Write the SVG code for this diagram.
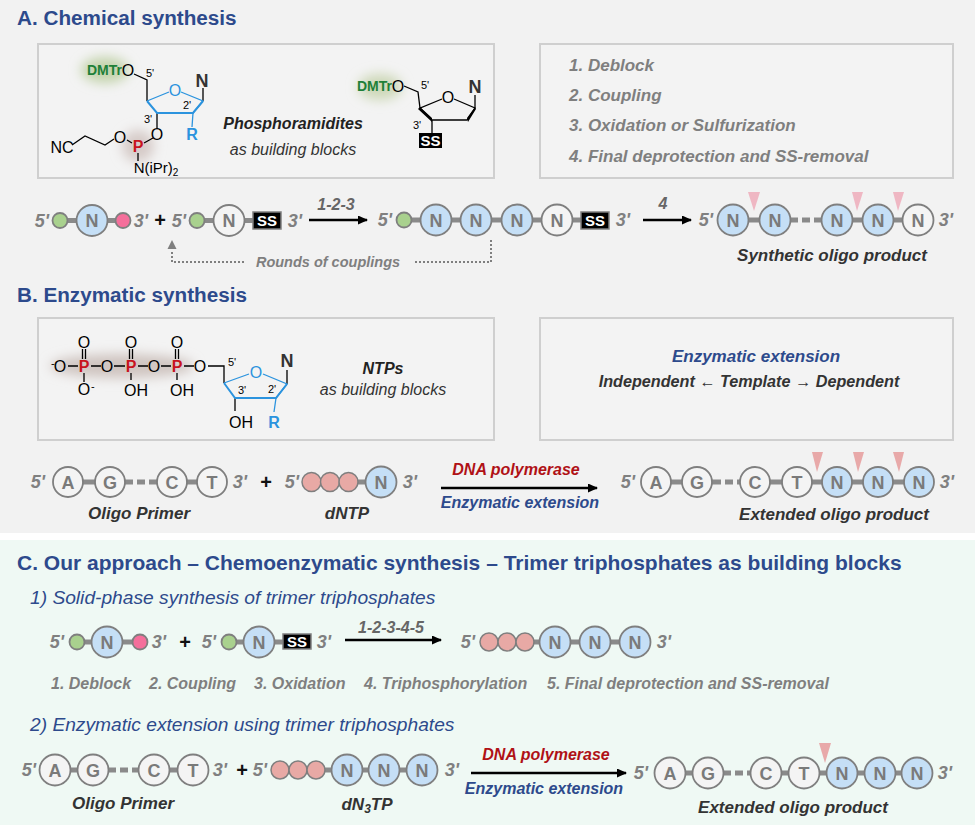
<svg xmlns="http://www.w3.org/2000/svg" width="975" height="825" viewBox="0 0 975 825">
<style>
text{font-family:"Liberation Sans",Arial,sans-serif}
.h{font-size:20.700px;font-weight:bold;fill:#2d4a8c}
.h3{font-size:21px;font-weight:bold;fill:#2d4a8c}
.sub{font-size:19.200px;font-style:italic;fill:#2d4a8c}
.panel{fill:#f3f3f3;stroke:#cfcfcf;stroke-width:2}
.step{font-size:17px;font-weight:bold;font-style:italic;fill:#7f7f7f}
.round{font-size:14.500px;font-weight:bold;font-style:italic;fill:#7f7f7f;text-anchor:middle}
.cstep{font-size:16px;font-weight:bold;font-style:italic;fill:#7f7f7f}
.pr{font-size:18px;font-weight:bold;font-style:italic;fill:#808080;text-anchor:middle}
.lab{font-size:17px;font-weight:bold;font-style:italic;fill:#333;text-anchor:middle}
.red{font-size:16px;font-weight:bold;font-style:italic;fill:#b01116;text-anchor:middle}
.blue{font-size:16px;font-weight:bold;font-style:italic;fill:#2d4a8c;text-anchor:middle}
.blue2{font-size:17px;font-weight:bold;font-style:italic;fill:#2d4a8c;text-anchor:middle}
.indep{font-size:16.200px;font-weight:bold;font-style:italic;fill:#333;text-anchor:middle}
.num{font-size:16px;font-weight:bold;font-style:italic;fill:#666;text-anchor:middle}
.plus{font-size:20px;font-weight:bold;fill:#111;text-anchor:middle}
.bl{fill:#c5dff6;stroke:#7f7f7f;stroke-width:1.800}
.wh{fill:#f4f4f4;stroke:#7f7f7f;stroke-width:1.800}
.gr{fill:#a9d18e;stroke:#7f7f7f;stroke-width:1.800}
.pk{fill:#f56f9b;stroke:#7f7f7f;stroke-width:1.800}
.sa{fill:#e8a9a5;stroke:#7f7f7f;stroke-width:1.500}
.nt{font-size:18px;font-weight:bold;fill:#7a7a7a;text-anchor:middle}
.ss{fill:#000;stroke:#7f7f7f;stroke-width:1.500}
.sst{font-size:15px;font-weight:bold;fill:#fff;text-anchor:middle}
.bar{stroke:#8a8a8a;stroke-width:5;fill:none}
.dash{stroke:#8a8a8a;stroke-width:5;fill:none;stroke-dasharray:8 4}
.arr{stroke:#000;stroke-width:2.500;fill:none;marker-end:url(#ah)}
.dot{stroke:#7f7f7f;stroke-width:2;fill:none;stroke-dasharray:2 2}
.tri{fill:#efb7c3}
.tri2{fill:#e8a9a9}
.bk{stroke:#000;stroke-width:1.300;fill:none}
.bb{stroke:#2b93de;stroke-width:1.300;fill:none}
.bw{stroke:#2b93de;stroke-width:2;fill:none}
.at{font-size:16px;fill:#000;text-anchor:middle}
.at2{font-size:15px;fill:#000;text-anchor:middle}
.atb{font-size:16px;fill:#2b93de;text-anchor:middle}
.P{font-size:16px;font-weight:bold;fill:#c8141e;text-anchor:middle}
.Nb{font-size:18px;font-weight:bold;fill:#333;text-anchor:middle}
.Rb{font-size:16px;font-weight:bold;fill:#2b93de;text-anchor:middle}
.dm{font-size:14px;font-weight:bold;fill:#1f8038}
.pm{font-size:11px;fill:#000;text-anchor:middle}
.bt{font-size:16px;font-weight:bold;font-style:italic;fill:#222;text-anchor:middle}
.it{font-size:16px;font-style:italic;fill:#333;text-anchor:middle}
</style>
<defs>
<marker id="ah" markerWidth="11" markerHeight="10" refX="9" refY="4.500" orient="auto" markerUnits="userSpaceOnUse"><path d="M0 0L10 4.500L0 9Z" fill="#000"/></marker>
<filter id="bl" x="-60%" y="-100%" width="220%" height="300%"><feGaussianBlur stdDeviation="6"/></filter>
</defs>
<rect width="975" height="533" fill="#f2f2f2"/>
<rect y="533" width="975" height="7" fill="#fff"/>
<rect y="540" width="975" height="285" fill="#eff9f4"/>

<text class="h" x="17" y="25">A. Chemical synthesis</text>
<rect class="panel" x="38" y="44" width="456" height="134"/>
<rect class="panel" x="540" y="44" width="413" height="134"/>

<g id="phosphoramidite">
<ellipse cx="105" cy="70" rx="24" ry="13" fill="#c3d3ab" filter="url(#bl)"/>
<circle cx="138" cy="146" r="16" fill="#d6cbc8" filter="url(#bl)"/>
<path class="bk" d="M134 74L147 80V101M203 101V88M157 113V128M153 138L144 143M127 140L132 143M114 139L105 145L85 136L72 145M138 153V161"/>
<path class="bb" d="M147 101L169 92M181 92L203 101L193 113M193 113L192 127"/>
<path class="bw" d="M147 101L157 113H193L203 101"/>
<text class="dm" x="87" y="75">DMTr</text>
<text class="at" x="128" y="76">O</text>
<text class="pm" x="150" y="77">5'</text>
<text class="atb" x="175" y="96">O</text>
<text class="Nb" x="202" y="87">N</text>
<text class="pm" x="187" y="109">2'</text>
<text class="pm" x="148" y="123">3'</text>
<text class="Rb" x="192" y="140">R</text>
<text class="at" x="157" y="140">O</text>
<text class="at" x="120" y="143">O</text>
<text class="P" x="138" y="152">P</text>
<text class="at" x="62" y="153">NC</text>
<text class="at2" x="156" y="173">N(iPr)<tspan font-size="10" dy="3">2</tspan></text>
</g>
<g id="phosphoramidites-label">
<text class="bt" x="293" y="129">Phosphoramidites</text>
<text class="it" x="293" y="155">as building blocks</text>
</g>
<g id="ss-amidite">
<ellipse cx="380" cy="87" rx="22" ry="13" fill="#cdd8b8" filter="url(#bl)"/>
<path class="bk" d="M404 86L418 92L420 108L442 99M454 99L475 108L467 120H432L420 108M475 108V95M432 120V133"/>
<path d="M420 107L432 118L432 122L418 109ZM467 118L475 107L476 109L468 122Z" fill="#000"/>
<text class="dm" x="357" y="91">DMTr</text>
<text class="at" x="398" y="92">O</text>
<text class="pm" x="425" y="89">5'</text>
<text class="at" x="448" y="103">O</text>
<text class="Nb" x="475" y="93">N</text>
<text class="pm" x="417" y="129">3'</text>
<rect x="419" y="133" width="23" height="15" fill="#000"/>
<text class="sst" x="430.500" y="146">SS</text>
</g>
<g id="steps-a">
<text class="step" x="569" y="71">1. Deblock</text>
<text class="step" x="569" y="101">2. Coupling</text>
<text class="step" x="569" y="131">3. Oxidation or Sulfurization</text>
<text class="step" x="569" y="162">4. Final deprotection and SS-removal</text>
</g>

<g id="connectors">
<path class="bar" d="M60 220.500H123M197 220.500H253M404 220H581M733 220H790M822 220H918"/>
<path class="dash" d="M790 220H822"/>
<path class="arr" d="M309 220H367"/>
<path class="arr" d="M643 220H691"/>
<path class="dot" d="M244 262H172V250"/>
<path d="M172 240L176.500 249H167.500Z" fill="#7f7f7f"/>
<path class="dot" d="M415 262H491V240"/>
<path class="bar" d="M68 482H125M157 482H212M311 482H381M656 482H713M741 482H919"/>
<path class="dash" d="M125 482H157M713 482H741"/>
<path class="arr" d="M441 488H597"/>
<path class="bar" d="M77 642H140M229 642H283M489 642H635"/>
<path class="arr" d="M345 640H441"/>
<path class="bar" d="M55 770H108M139 770H193M280 770H422M670 773H723M751 773H917"/>
<path class="dash" d="M108 770H139M723 773H751"/>
<path class="arr" d="M471 773H626"/>
</g>

<g id="row-a-labels">
<text class="pr" x="42" y="227">5'</text><text class="pr" x="141" y="227">3'</text>
<text class="plus" x="160" y="227">+</text>
<text class="pr" x="179" y="227">5'</text><text class="pr" x="295" y="227">3'</text>
<text class="num" x="336" y="210">1-2-3</text>
<text class="pr" x="385" y="226">5'</text><text class="pr" x="623" y="226">3'</text>
<text class="num" x="663" y="209">4</text>
<text class="pr" x="706" y="226">5'</text><text class="pr" x="946" y="226">3'</text>
<text class="round" x="328" y="267">Rounds of couplings</text>
<text class="lab" x="832" y="261">Synthetic oligo product</text>
</g>
<g id="a1"><circle class="gr" cx="60" cy="220.500" r="7.500"/></g>
<g id="a2"><circle class="bl" cx="92" cy="220.500" r="15.500"/><text class="nt" x="92" y="227">N</text></g>
<g id="a3"><circle class="pk" cx="123" cy="220.500" r="7.500"/></g>
<g id="a4"><circle class="gr" cx="197" cy="220.500" r="7.500"/></g>
<g id="a5"><circle class="wh" cx="229" cy="220.500" r="15.500"/><text class="nt" x="229" y="227">N</text></g>
<g id="a6"><rect class="ss" x="253" y="212" width="28" height="17"/><text class="sst" x="267" y="226">SS</text></g>
<g id="a7"><circle class="gr" cx="404" cy="220" r="7.500"/></g>
<g id="a8"><circle class="bl" cx="436" cy="220" r="15.500"/><text class="nt" x="436" y="226.500">N</text></g>
<g id="a9"><circle class="bl" cx="476" cy="220" r="15.500"/><text class="nt" x="476" y="226.500">N</text></g>
<g id="a10"><circle class="bl" cx="517" cy="220" r="15.500"/><text class="nt" x="517" y="226.500">N</text></g>
<g id="a11"><circle class="wh" cx="557" cy="220" r="15.500"/><text class="nt" x="557" y="226.500">N</text></g>
<g id="a12"><rect class="ss" x="581" y="212" width="28" height="17"/><text class="sst" x="595" y="226">SS</text></g>
<g id="a13"><circle class="bl" cx="733" cy="220" r="15.500"/><text class="nt" x="733" y="226.500">N</text></g>
<g id="a14"><circle class="bl" cx="775" cy="220" r="15.500"/><text class="nt" x="775" y="226.500">N</text></g>
<g id="a15"><circle class="bl" cx="837" cy="220" r="15.500"/><text class="nt" x="837" y="226.500">N</text></g>
<g id="a16"><circle class="bl" cx="878" cy="220" r="15.500"/><text class="nt" x="878" y="226.500">N</text></g>
<g id="a17"><circle class="wh" cx="918" cy="220" r="15.500"/><text class="nt" x="918" y="226.500">N</text></g>
<g id="a-cuts">
<path class="tri" d="M748 192H760L754 211Z"/><path class="tri" d="M852 192H863L857 211Z"/><path class="tri" d="M893 192H904L898 211Z"/>
</g>

<text class="h" x="17" y="302">B. Enzymatic synthesis</text>
<rect class="panel" x="38" y="318" width="456" height="122"/>
<rect class="panel" x="540" y="318" width="413" height="122"/>
<g id="ntp">
<ellipse cx="122" cy="366" rx="72" ry="12" fill="#cfc4c0" filter="url(#bl)"/>
<path class="bk" d="M68 366H78M91 366H101M114 366H125M138 366H148M161 366H171M184 366H194M208 366H224V383M287 384V370M82.500 349V359M85.500 349V359M129.500 349V359M132.500 349V359M175.500 349V359M178.500 349V359M84 373V382M131 373V380M177 373V380M235 398V411"/>
<path class="bb" d="M224 383L249 374M263 374L287 384L276 398M276 398L274 412"/>
<path class="bw" d="M224 383L235 398H276L287 384"/>
<text class="at" x="60" y="372">O</text><text x="51" y="367" font-size="11" fill="#000">-</text>
<text class="P" x="84" y="372">P</text>
<text class="at" x="107" y="372">O</text>
<text class="P" x="131" y="372">P</text>
<text class="at" x="154" y="372">O</text>
<text class="P" x="177" y="372">P</text>
<text class="at" x="200" y="372">O</text>
<text class="at" x="84" y="348">O</text><text class="at" x="131" y="348">O</text><text class="at" x="177" y="348">O</text>
<text class="at" x="84" y="395">O</text><text x="91" y="390" font-size="11" fill="#000">-</text>
<text class="at" x="136" y="396">OH</text><text class="at" x="182" y="396">OH</text>
<text class="pm" x="232" y="366">5'</text>
<text class="atb" x="256" y="378">O</text>
<text class="Nb" x="287" y="367">N</text>
<text class="pm" x="242" y="394">3'</text>
<text class="pm" x="272" y="393">2'</text>
<text class="at" x="241" y="428">OH</text>
<text class="Rb" x="274" y="428">R</text>
</g>
<g id="ntps-label">
<text class="bt" x="383" y="374">NTPs</text>
<text class="it" x="383" y="395">as building blocks</text>
</g>
<g id="extension-box">
<text class="blue2" x="756" y="362">Enzymatic extension</text>
<text class="indep" x="749" y="387">Independent ← Template → Dependent</text>
</g>
<g id="row-b-labels">
<text class="pr" x="38" y="488">5'</text><text class="pr" x="240" y="488">3'</text>
<text class="plus" x="266" y="489">+</text>
<text class="pr" x="292" y="488">5'</text><text class="pr" x="410" y="488">3'</text>
<text class="red" x="516" y="475">DNA polymerase</text>
<text class="blue" x="520" y="508">Enzymatic extension</text>
<text class="pr" x="628" y="488">5'</text><text class="pr" x="947" y="488">3'</text>
<text class="lab" x="139" y="519">Oligo Primer</text>
<text class="lab" x="347" y="519">dNTP</text>
<text class="lab" x="834" y="520">Extended oligo product</text>
</g>
<g id="b1"><circle class="wh" cx="68" cy="482" r="15"/><text class="nt" x="68" y="488.500">A</text></g>
<g id="b2"><circle class="wh" cx="110" cy="482" r="15"/><text class="nt" x="110" y="488.500">G</text></g>
<g id="b3"><circle class="wh" cx="172" cy="482" r="15"/><text class="nt" x="172" y="488.500">C</text></g>
<g id="b4"><circle class="wh" cx="212" cy="482" r="15"/><text class="nt" x="212" y="488.500">T</text></g>
<g id="b5"><circle class="sa" cx="311.500" cy="482" r="9.500"/></g>
<g id="b6"><circle class="sa" cx="330" cy="482" r="9.500"/></g>
<g id="b7"><circle class="sa" cx="348.500" cy="482" r="9.500"/></g>
<g id="b8"><circle class="bl" cx="381" cy="482" r="15.500"/><text class="nt" x="381" y="488.500">N</text></g>
<g id="b9"><circle class="wh" cx="656" cy="482" r="15"/><text class="nt" x="656" y="488.500">A</text></g>
<g id="b10"><circle class="wh" cx="697" cy="482" r="15"/><text class="nt" x="697" y="488.500">G</text></g>
<g id="b11"><circle class="wh" cx="755" cy="482" r="15"/><text class="nt" x="755" y="488.500">C</text></g>
<g id="b12"><circle class="wh" cx="797" cy="482" r="15"/><text class="nt" x="797" y="488.500">T</text></g>
<g id="b13"><circle class="bl" cx="837" cy="482" r="15"/><text class="nt" x="837" y="488.500">N</text></g>
<g id="b14"><circle class="bl" cx="878" cy="482" r="15"/><text class="nt" x="878" y="488.500">N</text></g>
<g id="b15"><circle class="bl" cx="919" cy="482" r="15"/><text class="nt" x="919" y="488.500">N</text></g>
<g id="b-cuts">
<path class="tri2" d="M812 452H823L817 472Z"/><path class="tri2" d="M853 452H864L858 472Z"/><path class="tri2" d="M893 452H904L899 472Z"/>
</g>

<text class="h3" x="17" y="570">C. Our approach – Chemoenzymatic synthesis – Trimer triphosphates as building blocks</text>
<text class="sub" x="30" y="604">1) Solid-phase synthesis of trimer triphosphates</text>
<g id="row-c1-labels">
<text class="pr" x="57" y="648">5'</text><text class="pr" x="159" y="648">3'</text>
<text class="plus" x="185" y="649">+</text>
<text class="pr" x="209" y="648">5'</text><text class="pr" x="324" y="648">3'</text>
<text class="num" x="391" y="633">1-2-3-4-5</text>
<text class="pr" x="468" y="648">5'</text><text class="pr" x="664" y="648">3'</text>
</g>
<g id="c1"><circle class="gr" cx="77" cy="642" r="7.500"/></g>
<g id="c2"><circle class="bl" cx="107" cy="642" r="15.500"/><text class="nt" x="107" y="648.500">N</text></g>
<g id="c3"><circle class="pk" cx="140" cy="642" r="7.500"/></g>
<g id="c4"><circle class="gr" cx="229" cy="642" r="7.500"/></g>
<g id="c5"><circle class="bl" cx="259" cy="642" r="15.500"/><text class="nt" x="259" y="648.500">N</text></g>
<g id="c6"><rect class="ss" x="283" y="634" width="28" height="15"/><text class="sst" x="297" y="647">SS</text></g>
<g id="c7"><circle class="sa" cx="489" cy="642" r="9"/></g>
<g id="c8"><circle class="sa" cx="507" cy="642" r="9"/></g>
<g id="c9"><circle class="sa" cx="525" cy="642" r="9"/></g>
<g id="c10"><circle class="bl" cx="555" cy="642" r="15.500"/><text class="nt" x="555" y="648.500">N</text></g>
<g id="c11"><circle class="bl" cx="595" cy="642" r="15.500"/><text class="nt" x="595" y="648.500">N</text></g>
<g id="c12"><circle class="bl" cx="635" cy="642" r="15.500"/><text class="nt" x="635" y="648.500">N</text></g>
<g id="steps-c">
<text class="cstep" x="51" y="689">1. Deblock</text>
<text class="cstep" x="149" y="689">2. Coupling</text>
<text class="cstep" x="254" y="689">3. Oxidation</text>
<text class="cstep" x="364" y="689">4. Triphosphorylation</text>
<text class="cstep" x="547" y="689">5. Final deprotection and SS-removal</text>
</g>
<text class="sub" x="30" y="731">2) Enzymatic extension using trimer triphosphates</text>
<g id="row-c2-labels">
<text class="pr" x="29" y="776">5'</text><text class="pr" x="220" y="776">3'</text>
<text class="plus" x="242" y="777">+</text>
<text class="pr" x="260" y="776">5'</text><text class="pr" x="452" y="776">3'</text>
<text class="red" x="546" y="760">DNA polymerase</text>
<text class="blue" x="544" y="794">Enzymatic extension</text>
<text class="pr" x="641" y="779">5'</text><text class="pr" x="945" y="779">3'</text>
<text class="lab" x="123" y="809">Oligo Primer</text>
<text class="lab" x="367" y="810">dN<tspan font-size="12" dy="3">3</tspan><tspan dy="-3">TP</tspan></text>
<text class="lab" x="793" y="813">Extended oligo product</text>
</g>
<g id="d1"><circle class="wh" cx="55" cy="770" r="15.500"/><text class="nt" x="55" y="776.500">A</text></g>
<g id="d2"><circle class="wh" cx="93" cy="770" r="15.500"/><text class="nt" x="93" y="776.500">G</text></g>
<g id="d3"><circle class="wh" cx="154" cy="770" r="15.500"/><text class="nt" x="154" y="776.500">C</text></g>
<g id="d4"><circle class="wh" cx="193" cy="770" r="15.500"/><text class="nt" x="193" y="776.500">T</text></g>
<g id="d5"><circle class="sa" cx="280" cy="770" r="9"/></g>
<g id="d6"><circle class="sa" cx="298" cy="770" r="9"/></g>
<g id="d7"><circle class="sa" cx="316" cy="770" r="9"/></g>
<g id="d8"><circle class="bl" cx="347" cy="770" r="15.500"/><text class="nt" x="347" y="776.500">N</text></g>
<g id="d9"><circle class="bl" cx="384" cy="770" r="15.500"/><text class="nt" x="384" y="776.500">N</text></g>
<g id="d10"><circle class="bl" cx="422" cy="770" r="15.500"/><text class="nt" x="422" y="776.500">N</text></g>
<g id="d11"><circle class="wh" cx="670" cy="773" r="15.500"/><text class="nt" x="670" y="779.500">A</text></g>
<g id="d12"><circle class="wh" cx="708" cy="773" r="15.500"/><text class="nt" x="708" y="779.500">G</text></g>
<g id="d13"><circle class="wh" cx="766" cy="773" r="15.500"/><text class="nt" x="766" y="779.500">C</text></g>
<g id="d14"><circle class="wh" cx="804" cy="773" r="15.500"/><text class="nt" x="804" y="779.500">T</text></g>
<g id="d15"><circle class="bl" cx="842" cy="773" r="15.500"/><text class="nt" x="842" y="779.500">N</text></g>
<g id="d16"><circle class="bl" cx="880" cy="773" r="15.500"/><text class="nt" x="880" y="779.500">N</text></g>
<g id="d17"><circle class="bl" cx="917" cy="773" r="15.500"/><text class="nt" x="917" y="779.500">N</text></g>
<g id="d-cuts"><path class="tri2" d="M819 743H831L825 763Z"/></g>
</svg>
